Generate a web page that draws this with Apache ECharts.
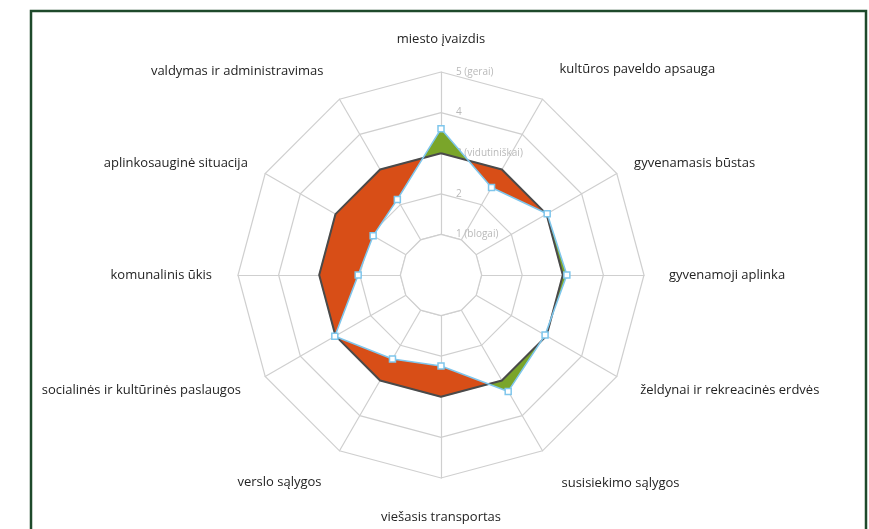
<!DOCTYPE html>
<html>
<head>
<meta charset="utf-8">
<script src="https://cdn.jsdelivr.net/npm/echarts@6/dist/echarts.min.js"></script>
<style>
	html, body { margin: 0; padding: 0; background: #fff; }
	#main { width: 869px; height: 529px; }
</style>
</head>
<body>
<div id="main"></div>
<script>
	// rodikliai, prieš laikrodžio rodyklę nuo viršaus (taip eina echarts radaras)
	var indicators = [
		'miesto įvaizdis',
		'valdymas ir administravimas',
		'aplinkosauginė situacija',
		'komunalinis ūkis',
		'socialinės ir kultūrinės paslaugos',
		'verslo sąlygos',
		'viešasis transportas',
		'susisiekimo sąlygos',
		'želdynai ir rekreacinės erdvės',
		'gyvenamoji aplinka',
		'gyvenamasis būstas',
		'kultūros paveldo apsauga'
	];
	// vidutinis lygis
	var average = [3, 3, 3, 3, 3, 3, 3, 3, 3, 3, 3, 3];
	// miesto vertinimas
	var rating = [3.6, 2.15, 1.93, 2.04, 3.02, 2.39, 2.24, 3.31, 2.96, 3.1, 3.02, 2.49];
	// skalės žymės
	var tickLabels = ['', '1 (blogai)', '2', '3 (vidutiniškai)', '4', '5 (gerai)'];

	var nameGaps = [26, 32, 20, 26, 28, 36, 33, 38, 27, 25, 20, 34];

	var orange = '#d84e17';
	var green = '#7aa52a';
	var blue = '#7fc6ec';
	var gridColor = '#cfcfcf';

	var myChart = echarts.init(document.getElementById('main'));

	var indicator = indicators.map(function(n, i) {
		var item = { name: n, min: 0, max: 5, nameGap: nameGaps[i] };
		if(i === 0) {
			item.axisLabel = {
				show: true,
				formatter: function(v) {
					return tickLabels[Math.round(v)] || '';
				}
			};
		}
		return item;
	});

	var option = {
		backgroundColor: '#fff',
		animation: false,
		graphic: [{
			type: 'rect',
			shape: { x: 31, y: 11, width: 835, height: 600 },
			style: { fill: 'none', stroke: '#1e4a2b', lineWidth: 2.5 },
			silent: true
		}],
		radar: [{
			center: [441, 275],
			radius: 203,
			shape: 'polygon',
			splitNumber: 5,
			indicator: indicator,
			axisName: {
				color: '#232323',
				fontSize: 13,
				fontFamily: 'Open Sans'
			},
			axisLine: { lineStyle: { color: gridColor, width: 1.2 } },
			splitLine: { lineStyle: { color: gridColor, width: 1.2 } },
			splitArea: { show: false },
			axisTick: { show: false },
			axisLabel: {
				show: false,
				color: '#b9b9b9',
				fontSize: 10,
				fontFamily: 'Open Sans',
				align: 'left',
				margin: -15
			}
		}, {
			// vidurinis ratas be stipinų
			z: 1,
			center: [441, 275],
			radius: 203 / 5,
			shape: 'polygon',
			splitNumber: 1,
			indicator: indicators.map(function() { return { min: 0, max: 1 }; }),
			axisName: { show: false },
			axisLine: { show: false },
			axisTick: { show: false },
			axisLabel: { show: false },
			splitLine: { lineStyle: { color: gridColor, width: 1.2 } },
			splitArea: { show: true, areaStyle: { color: ['#ffffff'] } }
		}],
		series: [{
			// oranžinė - kur vertinimas žemiau vidurkio
			type: 'radar',
			zlevel: 1,
			symbol: 'none',
			lineStyle: { opacity: 0 },
			areaStyle: { color: orange, opacity: 1 },
			data: [{ value: average }]
		}, {
			// žalia - kur virš vidurkio (xor išvalo persidengimą)
			type: 'radar',
			zlevel: 1,
			blendMode: 'xor',
			symbol: 'none',
			lineStyle: { opacity: 0 },
			areaStyle: { color: green, opacity: 1 },
			data: [{ value: rating }]
		}, {
			type: 'radar',
			zlevel: 1,
			symbol: 'none',
			lineStyle: { color: '#4a4a4a', width: 2 },
			data: [{ value: average }]
		}, {
			type: 'radar',
			zlevel: 1,
			symbol: 'rect',
			symbolSize: 6,
			itemStyle: { color: '#fff', borderColor: blue, borderWidth: 1.5 },
			lineStyle: { color: blue, width: 1.6 },
			data: [{ value: rating }]
		}]
	};
	myChart.setOption(option);
</script>
</body>
</html>
